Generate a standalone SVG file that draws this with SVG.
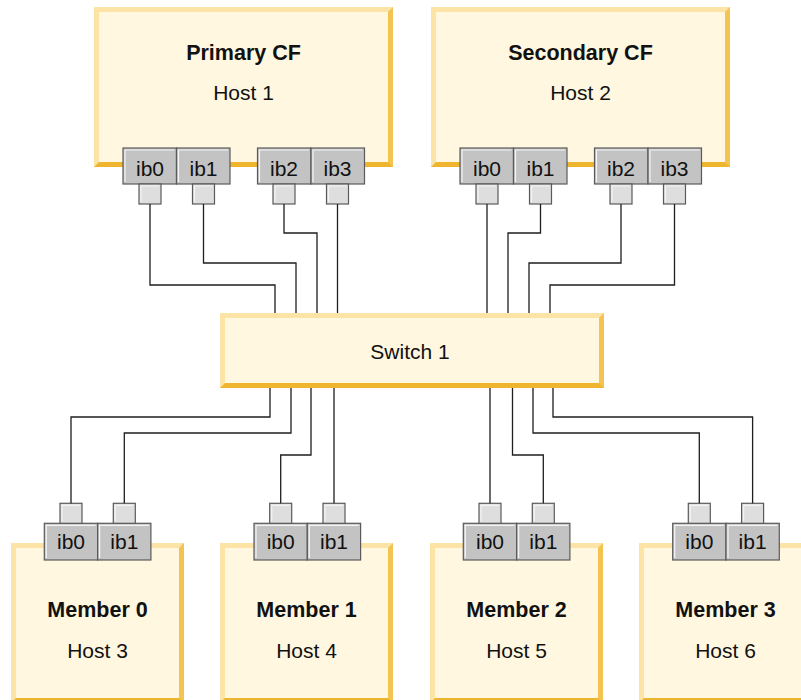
<svg xmlns="http://www.w3.org/2000/svg" xmlns:xlink="http://www.w3.org/1999/xlink" width="801" height="700" viewBox="0 0 801 700">
<style>
.lt{fill:#fce3a6}
.rt{fill:#f3c452}
.bt{fill:#efb52e}
.in{fill:#fff7e0}
.port{fill:#c3c3c3;stroke:#5a5a5a;stroke-width:1.2}
.plug{fill:#dedede;stroke:#5a5a5a;stroke-width:1.2}
.hl{fill:none;stroke:#f4f4f4;stroke-width:1.2}
.t{font-family:"Liberation Sans",Arial,sans-serif;font-size:21px;fill:#111;text-anchor:middle}
.b{font-weight:bold;font-size:21.5px}
.wire{fill:none;stroke:#1e1e1e;stroke-width:1.3}
</style>
<defs>
<g id="cfbox">
<rect x="0" y="0" width="299" height="160" class="bt"/>
<polygon points="299,0 299,160 294,155 294,5" class="rt"/>
<polygon points="0,0 299,0 294,5 5,5 5,155 0,160" class="lt"/>
<rect x="5" y="5" width="289" height="150" class="in"/>
</g>
<g id="membox">
<rect x="0" y="0" width="173" height="160" class="bt"/>
<polygon points="173,0 173,160 168,155 168,5" class="rt"/>
<polygon points="0,0 173,0 168,5 5,5 5,155 0,160" class="lt"/>
<rect x="5" y="5" width="163" height="150" class="in"/>
</g>
<g id="cfport">
<rect x="0" y="0" width="53.5" height="36" class="port"/>
<polyline points="2,34 2,2 51.5,2" class="hl"/>
</g>
<g id="memport">
<rect x="0" y="0" width="53.3" height="36.7" class="port"/>
<polyline points="2,34.7 2,2 51.3,2" class="hl"/>
</g>
<g id="plug">
<rect x="-11" y="0" width="22" height="20" class="plug"/>
<polyline points="-9,18 -9,2 9,2" class="hl"/>
</g>
</defs>

<g id="primary-cf">
<use xlink:href="#cfbox" x="94" y="7"/>
<text x="243.5" y="60" class="t b">Primary CF</text>
<text x="243.5" y="100" class="t">Host 1</text>
<use xlink:href="#cfport" x="123" y="148"/>
<use xlink:href="#cfport" x="176.5" y="148"/>
<use xlink:href="#cfport" x="257.5" y="148"/>
<use xlink:href="#cfport" x="311" y="148"/>
<text x="150" y="176" class="t">ib0</text>
<text x="203.5" y="176" class="t">ib1</text>
<text x="284" y="176" class="t">ib2</text>
<text x="337.5" y="176" class="t">ib3</text>
<use xlink:href="#plug" x="150" y="184"/>
<use xlink:href="#plug" x="203.5" y="184"/>
<use xlink:href="#plug" x="284" y="184"/>
<use xlink:href="#plug" x="337.5" y="184"/>
</g>

<g id="secondary-cf">
<use xlink:href="#cfbox" x="431" y="7"/>
<text x="580.5" y="60" class="t b">Secondary CF</text>
<text x="580.5" y="100" class="t">Host 2</text>
<use xlink:href="#cfport" x="460" y="148"/>
<use xlink:href="#cfport" x="513.5" y="148"/>
<use xlink:href="#cfport" x="594.5" y="148"/>
<use xlink:href="#cfport" x="648" y="148"/>
<text x="487" y="176" class="t">ib0</text>
<text x="540.5" y="176" class="t">ib1</text>
<text x="621" y="176" class="t">ib2</text>
<text x="674.5" y="176" class="t">ib3</text>
<use xlink:href="#plug" x="487" y="184"/>
<use xlink:href="#plug" x="540.5" y="184"/>
<use xlink:href="#plug" x="621" y="184"/>
<use xlink:href="#plug" x="674.5" y="184"/>
</g>

<g id="switch-1">
<rect x="220" y="313" width="384" height="75" class="bt"/>
<polygon points="604,313 604,388 599,383 599,318" class="rt"/>
<polygon points="220,313 604,313 599,318 225,318 225,383 220,388" class="lt"/>
<rect x="225" y="318" width="374" height="65" class="in"/>
<text x="410" y="359" class="t">Switch 1</text>
</g>

<g id="member-0">
<use xlink:href="#membox" x="11" y="543"/>
<text x="97.5" y="617" class="t b">Member 0</text>
<text x="97.5" y="658" class="t">Host 3</text>
<use xlink:href="#memport" x="44.3" y="523.3"/>
<use xlink:href="#memport" x="97.6" y="523.3"/>
<text x="71" y="549" class="t">ib0</text>
<text x="124.3" y="549" class="t">ib1</text>
<use xlink:href="#plug" x="71" y="503.3"/>
<use xlink:href="#plug" x="124.3" y="503.3"/>
</g>

<g id="member-1">
<use xlink:href="#membox" x="220" y="543"/>
<text x="306.5" y="617" class="t b">Member 1</text>
<text x="306.5" y="658" class="t">Host 4</text>
<use xlink:href="#memport" x="254" y="523.3"/>
<use xlink:href="#memport" x="307.3" y="523.3"/>
<text x="280.7" y="549" class="t">ib0</text>
<text x="334" y="549" class="t">ib1</text>
<use xlink:href="#plug" x="280.7" y="503.3"/>
<use xlink:href="#plug" x="334" y="503.3"/>
</g>

<g id="member-2">
<use xlink:href="#membox" x="430" y="543"/>
<text x="516.5" y="617" class="t b">Member 2</text>
<text x="516.5" y="658" class="t">Host 5</text>
<use xlink:href="#memport" x="463.3" y="523.3"/>
<use xlink:href="#memport" x="516.6" y="523.3"/>
<text x="490" y="549" class="t">ib0</text>
<text x="543.3" y="549" class="t">ib1</text>
<use xlink:href="#plug" x="490" y="503.3"/>
<use xlink:href="#plug" x="543.3" y="503.3"/>
</g>

<g id="member-3">
<use xlink:href="#membox" x="639" y="543"/>
<text x="725.5" y="617" class="t b">Member 3</text>
<text x="725.5" y="658" class="t">Host 6</text>
<use xlink:href="#memport" x="672.7" y="523.3"/>
<use xlink:href="#memport" x="726" y="523.3"/>
<text x="699.3" y="549" class="t">ib0</text>
<text x="752.6" y="549" class="t">ib1</text>
<use xlink:href="#plug" x="699.3" y="503.3"/>
<use xlink:href="#plug" x="752.6" y="503.3"/>
</g>

<g id="connectors">
<path d="M150,204 V285 H275 V313" class="wire"/>
<path d="M203.5,204 V263 H296 V313" class="wire"/>
<path d="M284,204 V233 H317 V313" class="wire"/>
<path d="M337.5,204 V313" class="wire"/>
<path d="M487,204 V313" class="wire"/>
<path d="M540.5,204 V233 H508 V313" class="wire"/>
<path d="M621,204 V263 H529 V313" class="wire"/>
<path d="M674.5,204 V285 H550 V313" class="wire"/>
<path d="M270,388 V417 H71 V503.3" class="wire"/>
<path d="M291,388 V433 H124.3 V503.3" class="wire"/>
<path d="M311,388 V455 H280.7 V503.3" class="wire"/>
<path d="M334,388 V503.3" class="wire"/>
<path d="M490,388 V503.3" class="wire"/>
<path d="M512.5,388 V455 H543.3 V503.3" class="wire"/>
<path d="M533,388 V433 H699.3 V503.3" class="wire"/>
<path d="M553,388 V417 H752.6 V503.3" class="wire"/>
</g>
</svg>
